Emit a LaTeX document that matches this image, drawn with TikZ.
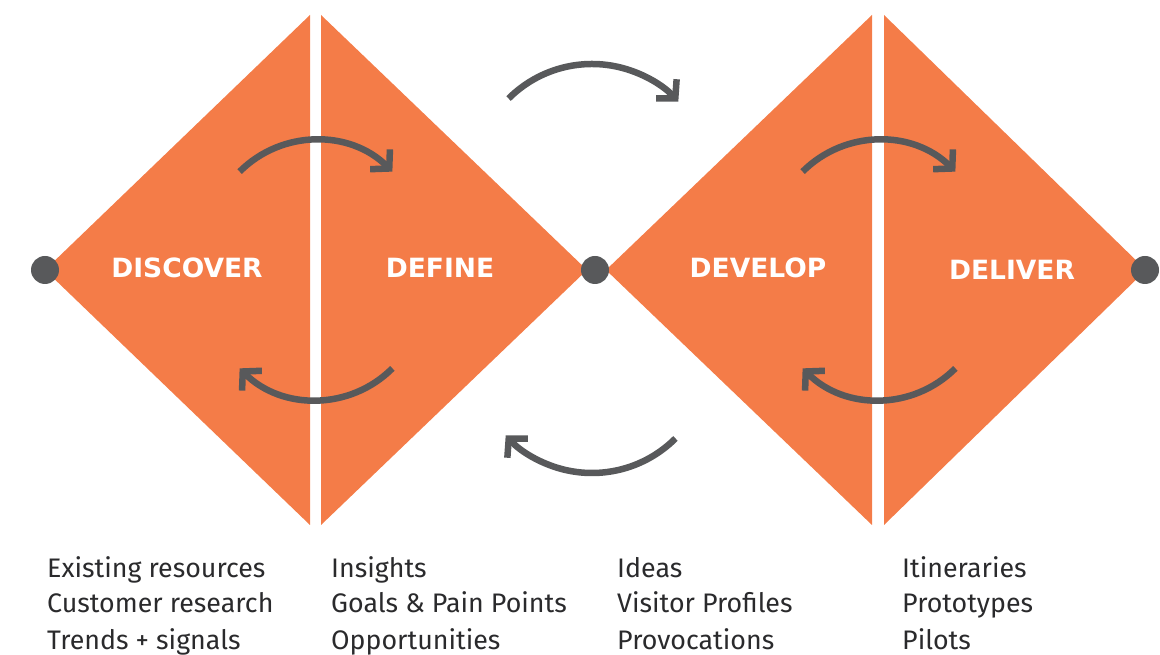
\documentclass[tikz,border=0pt]{standalone}
\usepackage{fontspec}
\setmainfont{Fira Sans}
\newfontfamily\phasefont{DejaVu Sans}
\usetikzlibrary{arrows.meta}
\definecolor{ddorange}{HTML}{F47C48}
\definecolor{ddgray}{HTML}{58595B}
\definecolor{ddtext}{HTML}{2A2A2C}

\begin{document}
\begin{tikzpicture}[x=1pt,y=1pt]
        \tikzstyle{phase}=[fill=ddorange]
        \tikzstyle{title}=[text=white,inner sep=0pt,font=\phasefont\fontsize{26.5}{26.5}\selectfont\bfseries]
        \tikzstyle{loop}=[draw=ddgray,line width=6.5pt,-{Straight Barb[length=13pt,width=28pt]}]
        \tikzstyle{dot}=[fill=ddgray,circle,inner sep=0pt,minimum size=28pt]
        \tikzstyle{item}=[text=ddtext,anchor=base west,inner sep=0pt,font=\fontsize{26.8}{26.8}\selectfont]
        \useasboundingbox (0,0) rectangle (1160,655);
        % the two diamonds, each cut in two halves
        \fill[phase] (45,385) -- (310,640) -- (310,130) -- cycle;
        \fill[phase] (321,640) -- (321,130) -- (587,385) -- cycle;
        \fill[phase] (606,385) -- (872,640) -- (872,130) -- cycle;
        \fill[phase] (884,640) -- (884,130) -- (1146,385) -- cycle;
        \node[dot] (start) at (45,385) {};
        \node[dot] (middle) at (595,385) {};
        \node[dot] (finish) at (1145,385) {};
        \node[title] (discover) at (187,387) {DISCOVER};
        \node[title] (define) at (440,387) {DEFINE};
        \node[title] (develop) at (758,387) {DEVELOP};
        \node[title] (deliver) at (1012,385) {DELIVER};
        % loops
        \coordinate (dia1top) at ([shift={(316,407)}]135:108);
        \coordinate (dia1bot) at ([shift={(316,363)}]-45:108);
        \coordinate (dia2top) at ([shift={(879,407)}]135:108);
        \coordinate (dia2bot) at ([shift={(879,363)}]-45:108);
        \coordinate (bigtop) at ([shift={(592,473)}]135:118);
        \coordinate (bigbot) at ([shift={(592,300)}]-45:118);
        \draw[loop] (dia1top) arc[start angle=135,end angle=45,radius=108pt];
        \draw[loop] (dia1bot) arc[start angle=-45,end angle=-135,radius=108pt];
        \draw[loop] (dia2top) arc[start angle=135,end angle=45,radius=108pt];
        \draw[loop] (dia2bot) arc[start angle=-45,end angle=-135,radius=108pt];
        \draw[loop] (bigtop) arc[start angle=135,end angle=43,radius=118pt];
        \draw[loop] (bigbot) arc[start angle=-45,end angle=-137,radius=118pt];
        % what comes out of each phase
        \foreach \n/\x/\a/\b/\c in {discover/47/Existing resources/Customer research/Trends + signals,
                define/331/Insights/Goals \& Pain Points/Opportunities,
                develop/617/Ideas/Visitor Profiles/Provocations,
                deliver/902/Itineraries/Prototypes/Pilots}
        {
                \node[item] (\n-1) at (\x,77) {\a};
                \node[item] (\n-2) at (\x,42) {\b};
                \node[item] (\n-3) at (\x,5) {\c};
        }
\end{tikzpicture}
\end{document}
